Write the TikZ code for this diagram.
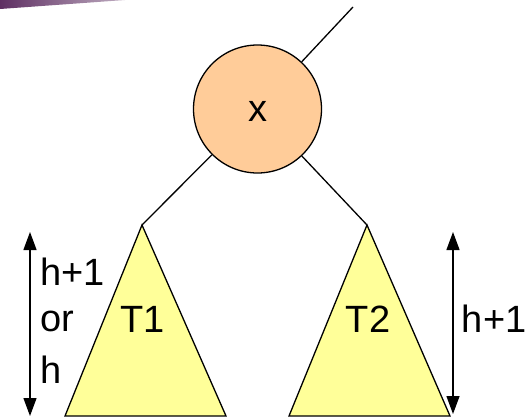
\documentclass[tikz,border=0pt]{standalone}
\usepackage{fontspec}
\setmainfont{Liberation Sans}
\usetikzlibrary{arrows.meta}
\definecolor{nodeorange}{HTML}{FFCC99}
\definecolor{treeyellow}{HTML}{FFFF99}
\definecolor{bandpurple}{HTML}{5E2F62}
\tikzset{
  lbl/.style={font=\fontsize{38}{40}\selectfont, inner sep=0pt},
  edge/.style={line width=1.3pt},
  tree/.style={fill=treeyellow, draw=black, line width=1.3pt, line join=miter},
  height/.style={line width=1.3pt, {Triangle[length=18pt,width=13pt]}-{Triangle[length=18pt,width=13pt]}},
}
\begin{document}
\begin{tikzpicture}[x=1pt,y=-1pt]
\useasboundingbox (0,0) rectangle (530,418);
% slide decoration band
\shade[left color=bandpurple, right color=bandpurple!40] (0,0) -- (125,0) -- (0,9) -- cycle;
% root node
\node[circle, draw=black, line width=1.3pt, fill=nodeorange, minimum size=128pt, inner sep=0pt] (x) at (257.5,109) {};
\node[lbl, anchor=base] (xl) at (257.5,121.7) {x};
\coordinate (up) at (353,7);
\draw[edge] (x) -- (up);
% subtrees
\coordinate (a1) at (142,225);
\coordinate (l1) at (65,416);
\coordinate (r1) at (226,416);
\coordinate (a2) at (367,225);
\coordinate (l2) at (289,416);
\coordinate (r2) at (450,416);
\draw[tree] (a1) -- (l1) -- (r1) -- cycle;
\draw[tree] (a2) -- (l2) -- (r2) -- cycle;
\draw[edge] (x) -- (a1);
\draw[edge] (x) -- (a2);
\node[lbl, anchor=base] (t1) at (142.5,332.7) {T1};
\node[lbl, anchor=base] (t2) at (368,332.7) {T2};
% heights
\coordinate (h1t) at (30,232);
\coordinate (h1b) at (30,416);
\draw[height] (h1t) -- (h1b);
\node[lbl, anchor=base west] (hl1) at (40,285) {h+1};
\node[lbl, anchor=base west] (hl2) at (40,331.7) {or};
\node[lbl, anchor=base west] (hl3) at (40,383) {h};
\coordinate (h2t) at (453,232);
\coordinate (h2b) at (453,414);
\draw[height] (h2t) -- (h2b);
\node[lbl, anchor=base west] (hr) at (461.7,332.7) {h+1};
\end{tikzpicture}
\end{document}
